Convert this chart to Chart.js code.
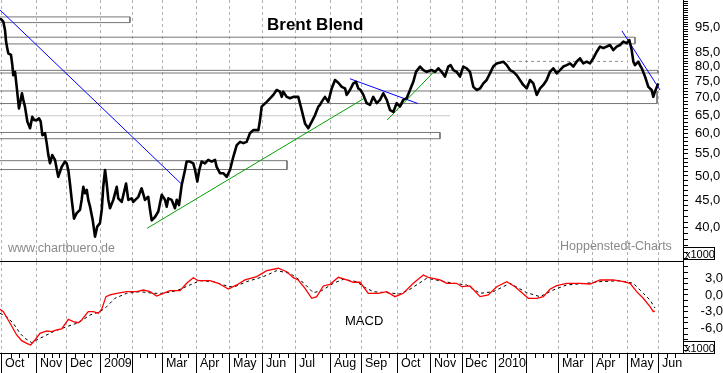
<!DOCTYPE html>
<html>
<head>
<meta charset="utf-8">
<script src="https://cdn.jsdelivr.net/npm/chart.js@4.4.0/dist/chart.umd.min.js"></script>
<style>
  body { margin: 0; background: #fff; }
  #wrap { position: relative; width: 723px; height: 373px; overflow: hidden; background: #fff; }
  canvas { position: absolute; left: 0; }
  #price { top: 0; }
  #macd { top: 262px; }
</style>
</head>
<body>
<div id="wrap">
  <canvas id="price" width="723" height="262"></canvas>
  <canvas id="macd" width="723" height="111"></canvas>
</div>
<script>
'use strict'

// x unit = trading days from 1 Oct 2008
const monthLabels = ['Oct','Nov','Dec','2009','','Mar','Apr','May','Jun','Jul','Aug','Sep','Oct','Nov','Dec','2010','','Mar','Apr','May','Jun'];
const monthDays = [0, 23.3, 43.3, 66, 86.7, 107.3, 130, 152, 174, 196, 219.3, 240, 264, 286, 306.7, 328.7, 350, 371.3, 394, 416.7, 438];

const priceDays = [-1.3,-0.2,0.9,2,2.7,3.5,4.2,6,6.9,7.5,8.7,9.8,11.3,12.5,13.3,14.2,15.3,16.9,18.7,20.2,
  21.5,23.1,24.7,25.8,26.9,28.7,29.8,30.9,32,33.5,35.3,37.5,39.8,42,43.1,44.2,45.3,46.5,48,49.8,
  52,53.1,54.2,55.3,56.5,57.5,58.7,60.5,62,63.5,65.3,66.5,67.5,68.7,69.8,70.9,72,74.2,76.5,77.5,
  79.8,82.7,84.2,86.5,87.5,90.9,93.1,95.3,97.5,98.7,99.8,102,104.2,106.5,108.7,109.8,110.9,113.1,115.3,116.5,
  118,119.8,122,123.1,125.3,127.5,128.7,130.2,131.5,133.1,135.3,137.5,139.8,142,143.1,145.3,147.5,149.8,152,154.2,
  156.5,158.7,160.9,163.1,165.3,167.5,170.9,172,173.1,176.5,180.9,183.1,185.3,186.5,187.5,189.8,192,194.2,197.5,199.8,
  202,204.2,206.5,208.7,210.9,212,213.1,215.3,217.5,219.8,222,224.2,226.5,228.7,229.8,232,234.2,236,237.5,239.1,
  240.9,243.1,245.3,247.5,249.8,252,254.2,256.5,258.7,260.9,263.1,265.3,267.5,269.8,272,274.2,276,278.7,280.9,283.1,
  286.5,288.7,290.9,293.1,295.3,297.5,299.1,300.9,303.1,305.3,307.5,309.8,312,314.2,316.5,318.7,320.9,323.1,325.3,327.5,
  329.8,334.2,336.5,338.7,340.9,343.1,345.3,347.5,349.8,352,354.2,356.5,358.7,360.9,363.1,365.3,367.5,369.8,372,374.2,
  376.5,378.7,380.9,383.1,385.3,387.5,389.8,392,394.2,396.5,398.7,400.9,403.1,405.3,407.5,409.8,412,414.2,416.5,418.2,
  419.8,420.9,422,424.2,425.3,426.5,428.7,430.9,433.1,434.2,435.3,437.5];
const priceValues = [98.6,97.9,97.2,93.8,89.2,86.7,84.8,84.2,80.6,77.2,78.3,73.4,66.9,69.4,71.4,69.4,67.4,63.2,61.4,64.5,
  63.6,63.6,64.1,63.2,59.6,60.1,57.6,54.7,52.8,54.7,53.6,49.8,52.0,53.2,52.8,51.3,48.4,45.1,41.6,42.6,
  43.2,45.1,47.7,46.4,47.1,45.1,43.8,41.3,38.5,40.2,40.8,43.2,47.7,51.3,48.4,45.1,43.5,45.1,47.7,45.4,
  44.7,48.4,45.1,45.4,44.7,45.7,47.4,45.1,45.7,43.2,41.3,41.9,42.9,46.1,45.1,43.8,45.4,45.1,43.5,45.1,
  44.1,48.1,51.3,53.2,53.2,52.8,51.3,48.8,51.3,53.2,52.8,53.6,53.2,53.6,52.0,50.6,50.6,49.8,51.3,54.3,
  57.1,57.9,57.6,57.9,60.1,60.9,60.9,63.6,67.4,68.8,70.9,72.4,71.9,70.3,71.9,70.3,69.9,70.3,70.3,66.4,
  62.7,61.4,63.2,65.0,67.4,67.9,68.8,70.3,68.8,72.9,75.6,74.7,73.4,72.9,70.9,72.4,74.5,75.0,72.9,72.4,
  70.9,68.4,67.9,70.3,68.4,69.4,71.4,69.4,66.4,65.9,68.4,67.4,69.4,69.9,72.4,75.0,78.3,80.1,78.9,78.3,
  78.9,78.3,79.5,78.3,76.7,80.1,80.6,78.9,78.3,76.7,80.1,79.5,78.3,73.4,72.4,72.9,74.5,75.6,77.8,80.1,
  81.2,81.8,80.6,78.9,78.3,77.2,75.6,74.0,72.9,75.6,74.5,70.9,72.9,74.0,75.6,78.3,79.5,77.8,78.9,80.1,
  80.6,81.2,80.1,81.8,83.0,81.2,81.8,81.2,83.0,85.4,87.3,86.7,87.3,87.9,86.0,87.3,87.9,89.2,88.6,89.8,
  86.0,81.8,80.6,81.8,80.6,79.5,76.7,73.4,72.4,70.3,71.9,74.5];

const macdDays = [-1.3,0.9,5.3,9.8,13.1,16.5,19.1,22,25.3,29.8,33.1,36.5,39.8,44.2,47.5,50.9,53.1,57.5,60.9,64.2,
  66.5,69.3,72,76.5,83.1,89.8,94.2,98.7,103.1,107.5,112,118.7,123.1,127.5,130.9,138.7,144.2,150.9,156.5,162,
  169.8,176.5,184.2,189.8,194.2,197.5,202,206.5,209.8,214.2,218.7,224.2,229.8,234.2,238.7,244.2,250.9,256.5,262,267.5,
  274.2,280.9,284.2,292,296.5,303.1,306.5,312,318.7,324.2,329.8,336.5,342,350.9,356.5,360.9,365.3,369.8,376.5,385.3,
  392,398.7,407.5,414.2,418.7,423.1,427.5,432,434.2,435.3];
const macdValues = [-2.55,-2.98,-5.0,-7.14,-8.16,-8.63,-8.93,-8.04,-6.84,-6.43,-6.55,-6.25,-6.07,-4.34,-4.77,-4.95,-4.46,-2.98,-2.98,-3.27,
  -2.55,-0.3,0,0.3,0.59,0.59,0.89,0.59,-0.18,0.3,0.77,0.77,2.09,3.09,2.55,2.55,2.09,1.07,1.79,2.68,
  3.27,4.34,4.77,4.16,3.09,2.68,1.2,-0.59,-0.3,1.61,1.91,3.16,2.68,2.27,2.27,0.3,0.3,0.59,-0.3,0.3,
  2.09,3.57,3.16,2.68,2.09,2.09,1.48,1.61,-0.3,0,1.48,2.38,1.48,-0.59,-0.59,-0.3,1.02,1.66,2.09,2.09,
  1.96,2.68,2.68,2.38,2.09,0.59,-0.59,-2.09,-2.98,-2.86];

const signalDays = [-1.3,3.1,7.5,12,15.3,19.8,23.1,27.5,34.2,43.1,50.9,58.7,65.3,69.8,75.3,83.1,92,100.9,107.5,116.5,
  125.3,132,140.9,147.5,154.2,163.1,174.2,183.1,192,200.9,207.5,213.1,220.9,227.5,236.5,240.9,247.5,256.5,265.3,272,
  283.1,292,300.9,309.8,318.7,327.5,338.7,349.8,358.7,367.5,376.5,389.8,398.7,412,420.9,427.5,432,435.3];
const signalValues = [-3.27,-3.88,-5.05,-6.84,-7.73,-8.52,-8.04,-7.45,-6.55,-5.66,-4.95,-3.57,-2.98,-2.09,-0.59,0.3,0.59,0.3,0.3,0.77,
  1.79,2.55,2.38,1.79,1.38,2.38,3.27,4.34,3.88,2.2,0.41,0.77,2.09,2.8,2.38,1.48,0.59,0.41,0.18,1.02,
  2.98,2.55,2.09,1.79,0.3,0.59,2.09,0.41,-0.3,0.89,1.79,2.09,2.38,2.55,2.09,0.3,-0.89,-2.32];

// drawn zones (price bands) and where they stop
const zoneLow = [96.8, 88.3, 77.9, 68.3, 58.7, 51.4];
const zoneHigh = [99.2, 90.9, 78.8, 72.1, 60.3, 53.4];
const zoneEnd = [85.3, 422, 437.3, 436.7, 292, 190];

// trend lines: [start, end]
const downDays = [[-1.3, 119.3], [232, 277.3], [413.3, 438.7]];
const downValues = [[102.2, 48.4], [76.0, 68.3], [93.4, 72.4]];
const upDays = [[96.7, 242], [256.7, 288.7]];
const upValues = [[39.9, 70.0], [63.6, 78.7]];
const levelDays = [[-1.3, 298.7], [336.7, 414]];
const levelValues = [64.8, 81.9];

const priceTickLabels = [95, 85, 80, 75, 70, 65, 60, 55, 50, 45, 40];
const macdTickLabels = [3, 0, -3, -6];

const FONT = '"Liberation Sans", Arial, sans-serif';
Chart.defaults.font.family = FONT;
Chart.defaults.animation = false;

const xMin = -1.333, xMax = 454;
const fmt = v => v.toFixed(1).replace('.', ',');
const pts = (xs, ys) => xs.map((x, i) => ({x: x, y: ys[i]}));
const monthTicks = s => { s.ticks = monthDays.map(v => ({value: v})); };

function seg(xs, ys, color, dash) {
    return {
        data: pts(xs, ys), borderColor: color, borderWidth: 1, borderDash: dash || [],
        pointRadius: 0, fill: false, tension: 0
    };
}

const priceSets = [{
    data: pts(priceDays, priceValues), borderColor: '#000', borderWidth: 2.6,
    pointRadius: 0, fill: false, tension: 0, borderJoinStyle: 'round'
}];
downDays.forEach((d, i) => priceSets.push(seg(d, downValues[i], '#0000ff')));
upDays.forEach((d, i) => priceSets.push(seg(d, upValues[i], '#00a000')));
priceSets.push(seg(levelDays[0], [levelValues[0], levelValues[0]], '#c8c8c8'));
priceSets.push(seg(levelDays[1], [levelValues[1], levelValues[1]], '#8c8c8c', [3, 3]));
zoneLow.forEach((lo, i) => {
    priceSets.push(seg([xMin, zoneEnd[i], zoneEnd[i], xMin], [zoneHigh[i], zoneHigh[i], lo, lo], '#767676'));
});

function x1000Box(ctx, x, y) {
    ctx.save();
    ctx.strokeStyle = '#000';
    ctx.lineWidth = 1;
    ctx.strokeRect(x + 0.5, y + 0.5, 31, 12);
    ctx.fillStyle = '#000';
    ctx.font = '11px ' + FONT;
    ctx.textBaseline = 'alphabetic';
    ctx.fillText('x1000', x + 2, y + 10.5);
    ctx.restore();
}

const priceText = {
    id: 'priceText',
    afterDraw(chart) {
        const ctx = chart.ctx;
        ctx.save();
        ctx.fillStyle = '#000';
        ctx.font = 'bold 17px ' + FONT;
        ctx.fillText('Brent Blend', 267, 30);
        ctx.fillStyle = '#8a8a8a';
        ctx.font = '12.5px ' + FONT;
        ctx.fillText('www.chartbuero.de', 8, 252);
        ctx.fillText('Hoppenstedt-Charts', 560, 250);
        ctx.restore();
        x1000Box(ctx, 683, 247);
    }
};

const macdText = {
    id: 'macdText',
    afterDraw(chart) {
        const ctx = chart.ctx;
        const x = chart.scales.x;
        const bottom = chart.chartArea.bottom;
        ctx.save();
        ctx.fillStyle = '#000';
        ctx.font = '13px ' + FONT;
        ctx.fillText('MACD', 345, 63);
        // weekly minor ticks on the time axis
        ctx.strokeStyle = '#000';
        ctx.lineWidth = 1;
        ctx.beginPath();
        for (let i = 0; i < monthDays.length; i++) {
            const a = monthDays[i];
            const b = i < monthDays.length - 1 ? monthDays[i + 1] : a + (a - monthDays[i - 1]);
            for (let k = 1; k < 4; k++) {
                const px = Math.round(x.getPixelForValue(a + (b - a) * k / 4)) + 0.5;
                if (px > chart.chartArea.right) continue;
                ctx.moveTo(px, bottom);
                ctx.lineTo(px, bottom + 5);
            }
        }
        ctx.stroke();
        ctx.restore();
        x1000Box(ctx, 683, 79);
    }
};

new Chart(document.getElementById('price'), {
    type: 'line',
    data: { datasets: priceSets },
    options: {
        responsive: false,
        events: [],
        layout: { padding: 0 },
        plugins: { legend: { display: false }, tooltip: { enabled: false } },
        scales: {
            x: {
                type: 'linear', min: xMin, max: xMax,
                afterBuildTicks: monthTicks,
                ticks: { display: false },
                grid: { color: '#b0b0b0', drawTicks: false },
                border: { color: '#000', dash: [3, 3] },
                afterFit: s => { s.height = 1; s.paddingLeft = 0; s.paddingRight = 0; }
            },
            y: {
                type: 'logarithmic', position: 'right', min: 34.66, max: 106.7, bounds: 'data',
                afterBuildTicks: s => {
                    const t = [];
                    for (let v = 35; v <= 106; v++) t.push({value: v});
                    s.ticks = t;
                },
                ticks: {
                    autoSkip: false, padding: 7, color: '#000', font: { size: 13 },
                    callback: v => priceTickLabels.includes(v) ? fmt(v) : ''
                },
                grid: { drawOnChartArea: false, tickLength: 5, tickColor: '#000' },
                border: { color: '#000' },
                afterFit: s => { s.width = 40; s.paddingTop = 0; s.paddingBottom = 0; }
            }
        }
    },
    plugins: [priceText]
});

new Chart(document.getElementById('macd'), {
    type: 'line',
    data: {
        datasets: [
            { data: pts(macdDays, macdValues), borderColor: '#ff0000', borderWidth: 1.3, pointRadius: 0, fill: false, tension: 0 },
            { data: pts(signalDays, signalValues), borderColor: '#000', borderWidth: 1, borderDash: [3, 3], pointRadius: 0, fill: false, tension: 0 }
        ]
    },
    options: {
        responsive: false,
        events: [],
        layout: { padding: 0 },
        plugins: { legend: { display: false }, tooltip: { enabled: false } },
        scales: {
            x: {
                type: 'linear', min: xMin, max: xMax,
                afterBuildTicks: monthTicks,
                ticks: {
                    autoSkip: false, maxRotation: 0, align: 'start', labelOffset: 3, padding: -17,
                    color: '#000', font: { size: 12.5 },
                    callback: (v, i) => monthLabels[i]
                },
                grid: { color: '#b0b0b0', tickColor: '#000', tickLength: 20 },
                border: { color: '#000', dash: [3, 3] },
                afterFit: s => { s.height = 20; s.paddingLeft = 0; s.paddingRight = 0; }
            },
            y: {
                type: 'linear', position: 'right', min: -10.36, max: 5.89,
                afterBuildTicks: s => {
                    const t = [];
                    for (let v = -10; v <= 5; v++) t.push({value: v});
                    s.ticks = t;
                },
                ticks: {
                    autoSkip: false, padding: 8, crossAlign: 'far', color: '#000', font: { size: 13 },
                    callback: v => macdTickLabels.includes(v) ? fmt(v) : ''
                },
                grid: { drawOnChartArea: false, tickLength: 5, tickColor: '#000' },
                border: { color: '#000' },
                afterFit: s => { s.width = 40; s.paddingTop = 0; s.paddingBottom = 0; }
            }
        }
    },
    plugins: [macdText]
});
</script>
</body>
</html>
